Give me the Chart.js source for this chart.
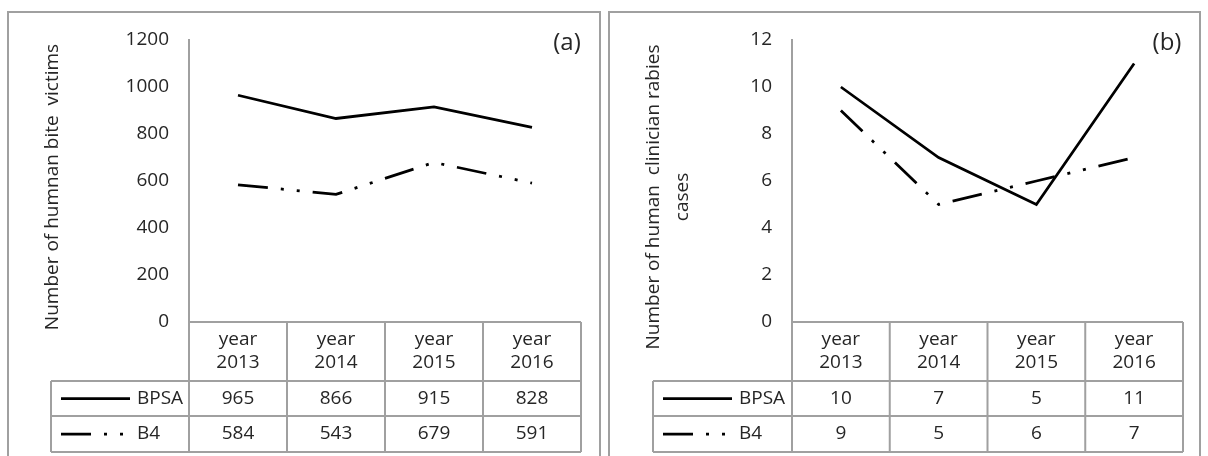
<!DOCTYPE html>
<html>
<head>
<meta charset="utf-8">
<script src="https://cdn.jsdelivr.net/npm/chart.js@4.4.1/dist/chart.umd.min.js"></script>
<style>
  html, body { margin: 0; padding: 0; background: #fff; }
  #wrap { position: relative; width: 1208px; height: 456px; overflow: hidden; }
  canvas { position: absolute; top: 0; }
  .frame { position: absolute; top: 11px; height: 500px; box-sizing: border-box; border: 2px solid #a0a0a0; }
</style>
</head>
<body>
<div id="wrap">
  <div class="frame" style="left:7px;width:594px"></div>
  <div class="frame" style="left:608px;width:593px"></div>
  <canvas id="chartA" width="600" height="456" style="left:0"></canvas>
  <canvas id="chartB" width="608" height="456" style="left:600px"></canvas>
</div>
<script>
// categories (two-line labels, as in the table header)
const years = [['year', '2013'], ['year', '2014'], ['year', '2015'], ['year', '2016']];
const seriesNames = ['BPSA', 'B4'];

// (a) human bite victims
const bpsaBite = [965, 866, 915, 828];
const b4Bite = [584, 543, 679, 591];
const biteTicks = [0, 200, 400, 600, 800, 1000, 1200];

// (b) human clinical rabies cases
const bpsaRabies = [10, 7, 5, 11];
const b4Rabies = [9, 5, 6, 7];
const rabiesTicks = [0, 2, 4, 6, 8, 10, 12];

const FONT = "'Open Sans', 'Noto Sans', sans-serif";
const GRAY = '#a0a0a0';
const INK = '#262626';
const dashDot = [30, 13, 3, 13, 3, 13];

Chart.defaults.font.family = FONT;
Chart.defaults.color = INK;

// draws the data table under the plot, the axis title and the panel letter
const tablePlugin = {
  id: 'panelTable',
  afterDraw(chart, args, o) {
    const {ctx, chartArea: a} = chart;
    const x = chart.scales.x;
    const labels = chart.data.labels;
    const n = labels.length;
    const w = (a.right - a.left) / n;
    const y0 = a.bottom, y1 = y0 + 59, y2 = y1 + 35, y3 = y2 + 36;

    ctx.save();
    ctx.strokeStyle = GRAY;
    ctx.lineWidth = 2;
    ctx.beginPath();
    ctx.moveTo(a.left, y0); ctx.lineTo(a.right, y0);
    [y1, y2, y3].forEach(y => { ctx.moveTo(o.legendLeft, y); ctx.lineTo(a.right, y); });
    for (let i = 0; i <= n; i++) {
      const xx = a.left + i * w;
      ctx.moveTo(xx, y0); ctx.lineTo(xx, y3);
    }
    ctx.moveTo(o.legendLeft, y1); ctx.lineTo(o.legendLeft, y3);
    ctx.stroke();

    ctx.fillStyle = INK;
    ctx.font = '500 19px ' + FONT;
    ctx.textAlign = 'center';
    ctx.textBaseline = 'middle';
    labels.forEach((lab, i) => {
      const cx = x.getPixelForValue(i);
      lab.forEach((t, k) => ctx.fillText(t, cx, y0 + 18 + k * 23));
    });

    chart.data.datasets.forEach((ds, r) => {
      const cy = r === 0 ? (y1 + y2) / 2 : (y2 + y3) / 2;
      ctx.textAlign = 'center';
      ds.data.forEach((v, i) => ctx.fillText(String(v), x.getPixelForValue(i), cy));
      ctx.save();
      ctx.strokeStyle = ds.borderColor;
      ctx.lineWidth = ds.borderWidth;
      ctx.setLineDash(ds.borderDash || []);
      ctx.beginPath();
      ctx.moveTo(o.legendLeft + 10, cy);
      ctx.lineTo(o.legendLeft + 79, cy);
      ctx.stroke();
      ctx.restore();
      ctx.textAlign = 'left';
      ctx.fillText(ds.label, o.legendLeft + 86, cy);
    });

    // rotated axis title
    ctx.font = '500 19px ' + FONT;
    ctx.textAlign = 'center';
    o.title.forEach((t, k) => {
      ctx.save();
      ctx.translate(o.titleX + k * 29, o.titleY);
      ctx.rotate(-Math.PI / 2);
      ctx.fillText(t, 0, 0);
      ctx.restore();
    });

    ctx.font = '500 24px ' + FONT;
    ctx.fillText(o.panel, o.panelX, 43);
    ctx.restore();
  }
};

function makePanel(id, bpsa, b4, ticks, yWidth, rightPad, opts) {
  return new Chart(document.getElementById(id), {
    type: 'line',
    data: {
      labels: years,
      datasets: [
        {label: seriesNames[0], data: bpsa, borderColor: '#000', borderWidth: 2.75,
         pointRadius: 0, tension: 0, fill: false},
        {label: seriesNames[1], data: b4, borderColor: '#000', borderWidth: 2.75,
         borderDash: dashDot, pointRadius: 0, tension: 0, fill: false}
      ]
    },
    options: {
      responsive: false,
      animation: false,
      devicePixelRatio: 1,
      layout: {padding: {top: 40, bottom: 134, left: 0, right: rightPad}},
      plugins: {legend: {display: false}, tooltip: {enabled: false}, panelTable: opts},
      scales: {
        x: {type: 'category', offset: true, display: false},
        y: {
          min: ticks[0], max: ticks[ticks.length - 1],
          afterBuildTicks: s => { s.ticks = ticks.map(v => ({value: v})); },
          afterFit: s => { s.width = yWidth; },
          grid: {display: false, drawTicks: false},
          border: {display: true, color: GRAY, width: 2},
          ticks: {padding: 20, font: {size: 19, weight: '500'}, color: INK,
                  callback: v => String(v)}
        }
      }
    },
    plugins: [tablePlugin]
  });
}

makePanel('chartA', bpsaBite, b4Bite, biteTicks, 189, 19, {
  legendLeft: 51, title: ['Number of humnan bite  victims'], titleX: 53, titleY: 187,
  panel: '(a)', panelX: 567
});
makePanel('chartB', bpsaRabies, b4Rabies, rabiesTicks, 192, 25, {
  legendLeft: 53, title: ['Number of human  clinician rabies', 'cases'], titleX: 54, titleY: 197,
  panel: '(b)', panelX: 567
});
</script>
</body>
</html>
